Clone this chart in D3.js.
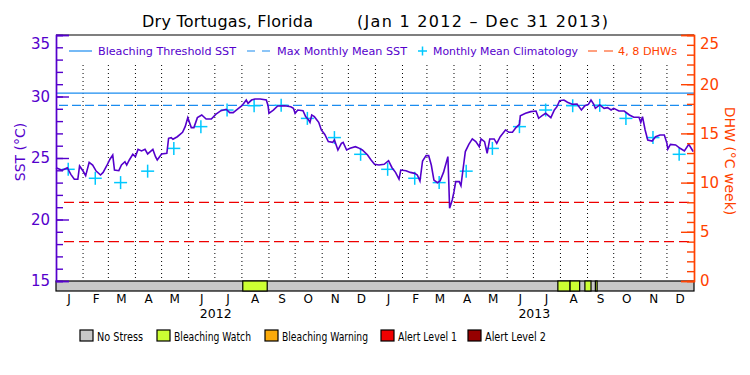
<!DOCTYPE html>
<html>
<head>
<meta charset="utf-8">
<script src="https://cdn.jsdelivr.net/npm/d3@7"></script>
<style>
  body { margin: 0; background: #fff; }
  svg { font-family: "DejaVu Sans", sans-serif; }
</style>
</head>
<body>
<div id="chart"></div>
<script>
var w = 750, h = 375;
var left = 56, right = 694, top_ = 35, bottom = 281, barBottom = 291;

var sstColor = "#5500cc",
    dhwColor = "#ff4200",
    climColor = "#00c8ff",
    thrColor = "#1a8cf0";

// daily SST
var sstDates = [
  "2012-01-01","2012-01-08","2012-01-14","2012-01-18","2012-01-22","2012-01-26","2012-01-28",
  "2012-02-01","2012-02-04","2012-02-08","2012-02-12","2012-02-16","2012-02-21","2012-02-24","2012-02-28",
  "2012-03-03","2012-03-06","2012-03-08","2012-03-13","2012-03-16","2012-03-20","2012-03-22","2012-03-25","2012-03-29",
  "2012-04-01","2012-04-04","2012-04-08","2012-04-12","2012-04-15","2012-04-21","2012-04-24","2012-04-26",
  "2012-05-01","2012-05-07","2012-05-09","2012-05-12","2012-05-14","2012-05-19","2012-05-25","2012-05-28","2012-05-31",
  "2012-06-04","2012-06-07","2012-06-11","2012-06-16","2012-06-21","2012-06-27",
  "2012-07-02","2012-07-08","2012-07-14","2012-07-18","2012-07-22","2012-07-27",
  "2012-08-01","2012-08-03","2012-08-06","2012-08-08","2012-08-12","2012-08-16","2012-08-22","2012-08-29","2012-08-31",
  "2012-09-01","2012-09-06","2012-09-11","2012-09-19","2012-09-26","2012-09-29",
  "2012-10-01","2012-10-04","2012-10-10","2012-10-13","2012-10-16","2012-10-18","2012-10-20","2012-10-23","2012-10-28","2012-10-31",
  "2012-11-04","2012-11-08","2012-11-13","2012-11-15","2012-11-19","2012-11-23","2012-11-25","2012-11-29",
  "2012-12-03","2012-12-09","2012-12-12","2012-12-17","2012-12-23","2012-12-27","2012-12-31",
  "2013-01-05","2013-01-11","2013-01-16","2013-01-20","2013-01-24","2013-01-28","2013-01-30",
  "2013-02-05","2013-02-10","2013-02-15","2013-02-18","2013-02-21","2013-02-24","2013-02-28",
  "2013-03-03","2013-03-06","2013-03-09","2013-03-13","2013-03-16","2013-03-20","2013-03-25","2013-03-26","2013-03-27","2013-03-30",
  "2013-04-01","2013-04-03","2013-04-07","2013-04-09","2013-04-12","2013-04-14","2013-04-18","2013-04-22","2013-04-26","2013-04-30",
  "2013-05-02","2013-05-06","2013-05-09","2013-05-12","2013-05-17","2013-05-20","2013-05-24","2013-05-30",
  "2013-06-03","2013-06-07","2013-06-11","2013-06-15","2013-06-16","2013-06-22","2013-06-28",
  "2013-07-04","2013-07-07","2013-07-11","2013-07-15","2013-07-21","2013-07-25","2013-07-28","2013-07-31",
  "2013-08-05","2013-08-09","2013-08-15","2013-08-20","2013-08-25","2013-08-29",
  "2013-09-02","2013-09-05","2013-09-08","2013-09-10","2013-09-15","2013-09-20","2013-09-24","2013-09-28",
  "2013-10-01","2013-10-07","2013-10-13","2013-10-19","2013-10-24","2013-10-30",
  "2013-11-01","2013-11-03","2013-11-06","2013-11-09","2013-11-14","2013-11-18","2013-11-23","2013-11-28",
  "2013-12-01","2013-12-02","2013-12-05","2013-12-11","2013-12-16","2013-12-21","2013-12-26","2013-12-30","2013-12-31"
];
var sstValues = [
  24.21,24.00,24.21,23.67,23.27,23.27,24.35,
  23.94,23.56,24.65,24.43,23.94,23.62,23.83,24.35,
  24.92,25.24,24.02,23.97,24.43,24.70,24.43,24.84,25.30,
  25.11,25.70,25.57,25.70,25.33,25.70,25.11,24.84,
  25.33,25.38,26.60,26.65,26.52,26.73,27.09,27.55,28.28,
  27.47,27.47,28.28,28.50,28.17,28.17,
  28.55,28.85,28.96,28.69,28.69,28.98,
  29.25,29.44,29.71,29.44,29.71,29.80,29.80,29.71,29.25,
  28.63,28.90,29.23,29.25,29.17,29.04,
  28.63,28.90,28.85,28.36,28.14,27.90,28.50,28.36,27.90,27.28,
  26.92,26.33,26.27,26.46,25.65,26.19,26.27,25.65,
  25.79,25.92,25.84,25.65,25.25,24.84,24.49,
  24.43,24.49,24.78,24.21,23.83,23.29,24.02,
  23.97,23.83,23.75,23.62,23.13,24.76,25.19,
  25.19,24.43,23.21,22.99,23.13,23.83,25.11,23.08,20.91,21.59,
  22.26,23.08,23.08,22.75,24.43,25.52,26.11,26.55,26.33,25.92,
  26.55,26.33,25.38,26.55,26.55,26.19,26.73,27.28,
  27.09,27.09,27.47,27.74,28.44,28.63,28.77,
  28.82,28.23,28.44,28.63,28.28,28.90,29.17,29.66,
  29.71,29.53,29.36,29.39,28.90,29.25,
  29.36,29.71,29.39,29.04,29.31,29.04,29.09,28.90,
  29.04,28.82,28.82,28.50,28.31,28.31,
  27.90,28.36,27.28,26.46,26.38,26.73,26.87,26.87,
  26.19,25.73,26.11,26.06,25.79,25.57,26.11,25.65,25.52
];

// monthly mean climatology, Jan..Dec
var climValues = [24.08, 23.35, 23.0, 23.93, 25.78, 27.55, 28.9, 29.25, 29.28, 28.22, 26.66, 25.3];
var years = [2012, 2013];
var mmm = 29.28;
var threshold = 30.27;
var dhwLevels = [4, 8];

// stress level runs shown in the bar (level 1 = Bleaching Watch)
var stressStart = ["2012-08-02", "2013-07-29", "2013-08-12", "2013-08-29", "2013-09-10"];
var stressEnd   = ["2012-08-30", "2013-08-12", "2013-08-23", "2013-09-05", "2013-09-12"];
var stressLevel = [1, 1, 1, 1, 1];

var stressNames  = ["No Stress", "Bleaching Watch", "Bleaching Warning", "Alert Level 1", "Alert Level 2"];
var stressColors = ["#c8c8c8", "#ccff33", "#fbaa0a", "#f00000", "#960000"];
var monthLetters = ["J","F","M","A","M","J","J","A","S","O","N","D"];

// layout of the bottom legend (box x, text width)
var legendBoxX = [80, 157, 265, 381, 468];
var legendTextW = [46, 77, 86, 59, 61];

var parse = d3.timeParse("%Y-%m-%d");

var svg = d3.select("#chart").append("svg")
    .attr("width", w)
    .attr("height", h);

var x = d3.scaleTime()
    .domain([new Date(2012, 0, 1), new Date(2014, 0, 1)])
    .range([left, right]);
var ySst = d3.scaleLinear().domain([15, 35]).range([bottom, top_]);
var yDhw = d3.scaleLinear().domain([0, 25]).range([bottom, top_]);

// month dotted lines
var monthStarts = d3.timeMonth.range(new Date(2012, 1, 1), new Date(2014, 0, 1));
svg.append("g").selectAll("line")
    .data(monthStarts)
    .enter().append("line")
    .attr("x1", function(d) { return x(d); })
    .attr("x2", function(d) { return x(d); })
    .attr("y1", 65)
    .attr("y2", bottom)
    .attr("stroke", "#000")
    .attr("stroke-width", 1)
    .attr("stroke-dasharray", "1,3");

// threshold + MMM
svg.append("line")
    .attr("x1", left).attr("x2", right)
    .attr("y1", ySst(threshold)).attr("y2", ySst(threshold))
    .attr("stroke", thrColor).attr("stroke-width", 1.2);
svg.append("line")
    .attr("x1", left + 3).attr("x2", right)
    .attr("y1", ySst(mmm)).attr("y2", ySst(mmm))
    .attr("stroke", thrColor).attr("stroke-width", 1.2)
    .attr("stroke-dasharray", "9,4");

// DHW 4 and 8
svg.append("g").selectAll("line")
    .data(dhwLevels)
    .enter().append("line")
    .attr("x1", left + 8).attr("x2", right)
    .attr("y1", function(d) { return yDhw(d); })
    .attr("y2", function(d) { return yDhw(d); })
    .attr("stroke", "#ee0000").attr("stroke-width", 1.2)
    .attr("stroke-dasharray", "10,5");

// climatology crosses
var clim = [];
years.forEach(function(yr) {
    climValues.forEach(function(v, m) { clim.push({ date: new Date(yr, m, 15), val: v }); });
});
var cross = svg.append("g").selectAll("g")
    .data(clim)
    .enter().append("g")
    .attr("transform", function(d) { return "translate(" + x(d.date) + "," + ySst(d.val) + ")"; });
cross.append("line").attr("x1", -6.5).attr("x2", 6.5).attr("y1", 0).attr("y2", 0);
cross.append("line").attr("x1", 0).attr("x2", 0).attr("y1", -6.5).attr("y2", 6.5);
cross.selectAll("line").attr("stroke", climColor).attr("stroke-width", 1.5);

// SST line
var sst = sstDates.map(function(d, i) { return { date: parse(d), val: sstValues[i] }; });
var line = d3.line()
    .x(function(d) { return x(d.date); })
    .y(function(d) { return ySst(d.val); });
svg.append("path")
    .datum(sst)
    .attr("d", line)
    .attr("fill", "none")
    .attr("stroke", sstColor)
    .attr("stroke-width", 1.6);

// stress bar
svg.append("rect")
    .attr("x", left).attr("y", bottom)
    .attr("width", right - left).attr("height", barBottom - bottom)
    .attr("fill", stressColors[0]).attr("stroke", "#000").attr("stroke-width", 1.2);
svg.append("g").selectAll("rect")
    .data(stressStart)
    .enter().append("rect")
    .attr("x", function(d) { return x(parse(d)); })
    .attr("y", bottom)
    .attr("width", function(d, i) { return x(parse(stressEnd[i])) - x(parse(d)); })
    .attr("height", barBottom - bottom)
    .attr("fill", function(d, i) { return stressColors[stressLevel[i]]; })
    .attr("stroke", "#000").attr("stroke-width", 1.2);

// frame top
svg.append("line")
    .attr("x1", left).attr("x2", right).attr("y1", top_).attr("y2", top_)
    .attr("stroke", "#000").attr("stroke-width", 1.2);

// axes: ticks point inward, labels outside
function styleAxis(g, col) {
    g.select(".domain").attr("stroke", col).attr("stroke-width", 1.4);
    g.selectAll(".tick line").attr("stroke", col).attr("stroke-width", 1.4);
    g.selectAll(".tick text").attr("fill", col).style("font-size", "15px").style("font-family", "DejaVu Sans");
}
var yLeftMinor = d3.axisLeft(ySst).tickValues(d3.range(15, 36, 1)).tickSize(-7).tickFormat("");
svg.append("g").attr("transform", "translate(" + left + ",0)")
    .call(yLeftMinor)
    .call(function(g) { styleAxis(g, sstColor); });
var yLeft = d3.axisLeft(ySst).tickValues([15, 20, 25, 30, 35]).tickSize(-13).tickPadding(6);
svg.append("g").attr("transform", "translate(" + left + ",0)")
    .call(yLeft)
    .call(function(g) {
        styleAxis(g, sstColor);
        g.selectAll(".tick text").filter(function(d) { return d == 35; }).attr("dy", "0.9em");
    });

var yRightMinor = d3.axisRight(yDhw).tickValues(d3.range(0, 26, 1)).tickSize(-7).tickFormat("");
svg.append("g").attr("transform", "translate(" + right + ",0)")
    .call(yRightMinor)
    .call(function(g) { styleAxis(g, dhwColor); });
var yRight = d3.axisRight(yDhw).tickValues([0, 5, 10, 15, 20, 25]).tickSize(-13).tickPadding(6);
svg.append("g").attr("transform", "translate(" + right + ",0)")
    .call(yRight)
    .call(function(g) {
        styleAxis(g, dhwColor);
        g.selectAll(".tick text").filter(function(d) { return d == 25; }).attr("dy", "0.9em");
    });

// axis titles
svg.append("text")
    .attr("transform", "translate(25,152) rotate(-90)")
    .attr("text-anchor", "middle")
    .attr("fill", sstColor)
    .style("font-size", "14px")
    .text("SST (°C)");
svg.append("text")
    .attr("transform", "translate(725,161) rotate(90)")
    .attr("text-anchor", "middle")
    .attr("fill", dhwColor)
    .style("font-size", "14px")
    .text("DHW (°C week)");

// month + year labels
var midMonths = [];
years.forEach(function(yr) {
    monthLetters.forEach(function(l, m) { midMonths.push({ date: new Date(yr, m, 16), label: l }); });
});
svg.append("g").selectAll("text")
    .data(midMonths)
    .enter().append("text")
    .attr("x", function(d) { return x(d.date); })
    .attr("y", 303)
    .attr("text-anchor", "middle")
    .style("font-size", "12px")
    .text(function(d) { return d.label; });
svg.append("g").selectAll("text")
    .data(years)
    .enter().append("text")
    .attr("x", function(d) { return x(new Date(d, 6, 2)); })
    .attr("y", 318)
    .attr("text-anchor", "middle")
    .style("font-size", "12.5px")
    .text(function(d) { return d; });

// title
svg.append("text")
    .attr("x", 142).attr("y", 27)
    .attr("textLength", 171).attr("lengthAdjust", "spacing")
    .style("font-size", "16px")
    .text("Dry Tortugas, Florida");
svg.append("text")
    .attr("x", 357).attr("y", 27)
    .attr("textLength", 251).attr("lengthAdjust", "spacing")
    .style("font-size", "16px")
    .text("(Jan 1 2012 – Dec 31 2013)");

// top legend
var lg = svg.append("g").attr("transform", "translate(0,51)");
function legendText(tx, len, txt, col) {
    lg.append("text")
        .attr("x", tx).attr("y", 4)
        .attr("textLength", len).attr("lengthAdjust", "spacingAndGlyphs")
        .attr("fill", col)
        .style("font-size", "11px")
        .text(txt);
}
lg.append("line").attr("x1", 69).attr("x2", 92).attr("y1", 0).attr("y2", 0)
    .attr("stroke", thrColor).attr("stroke-width", 1.2);
legendText(98, 138, "Bleaching Threshold SST", sstColor);
lg.append("line").attr("x1", 247).attr("x2", 271).attr("y1", 0).attr("y2", 0)
    .attr("stroke", thrColor).attr("stroke-width", 1.2).attr("stroke-dasharray", "8,7");
legendText(277, 130, "Max Monthly Mean SST", sstColor);
lg.append("line").attr("x1", 418).attr("x2", 427).attr("y1", 0).attr("y2", 0)
    .attr("stroke", climColor).attr("stroke-width", 1.5);
lg.append("line").attr("x1", 422.5).attr("x2", 422.5).attr("y1", -4.5).attr("y2", 4.5)
    .attr("stroke", climColor).attr("stroke-width", 1.5);
legendText(433, 145, "Monthly Mean Climatology", sstColor);
lg.append("line").attr("x1", 588).attr("x2", 613).attr("y1", 0).attr("y2", 0)
    .attr("stroke", dhwColor).attr("stroke-width", 1.2).attr("stroke-dasharray", "9,7");
legendText(618, 59, "4, 8 DHWs", dhwColor);

// bottom legend
var bl = svg.append("g").attr("transform", "translate(0,330)");
bl.selectAll("rect")
    .data(stressNames)
    .enter().append("rect")
    .attr("x", function(d, i) { return legendBoxX[i]; })
    .attr("y", 0)
    .attr("width", 13).attr("height", 11)
    .attr("fill", function(d, i) { return stressColors[i]; })
    .attr("stroke", "#000").attr("stroke-width", 1.2);
bl.selectAll("text")
    .data(stressNames)
    .enter().append("text")
    .attr("x", function(d, i) { return legendBoxX[i] + 17; })
    .attr("y", 10.5)
    .attr("textLength", function(d, i) { return legendTextW[i]; })
    .attr("lengthAdjust", "spacingAndGlyphs")
    .style("font-size", "12.5px")
    .text(function(d) { return d; });
</script>
</body>
</html>
